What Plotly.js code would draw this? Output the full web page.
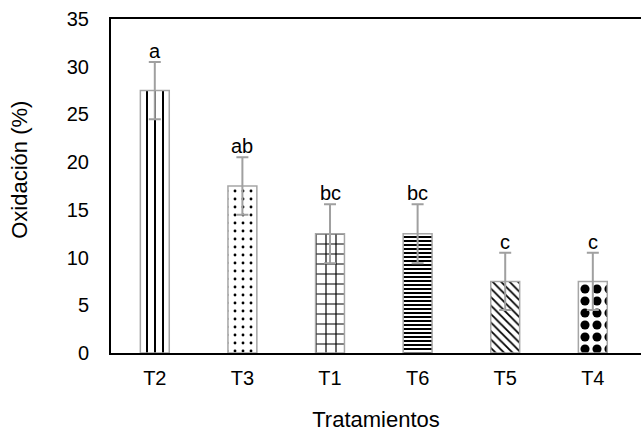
<!DOCTYPE html>
<html>
<head>
<meta charset="utf-8">
<script src="https://cdn.plot.ly/plotly-3.0.1.min.js"></script>
<style>html,body{margin:0;padding:0;background:#fff;}#chart{width:641px;height:434px;}</style>
</head>
<body>
<div id="chart"></div>
<script>
const categories = ["T2", "T3", "T1", "T6", "T5", "T4"];
const values = [27.5, 17.5, 12.5, 12.5, 7.5, 7.5];
const errors = [3.0, 3.0, 3.1, 3.1, 3.0, 3.0];
const letters = ["a", "ab", "bc", "bc", "c", "c"];
const yTicks = [0, 5, 10, 15, 20, 25, 30, 35];
const xTitle = "Tratamientos";
const yTitle = "Oxidación (%)";

const patternShapes = ["|", ".", "+", "-", "\\", "."];
const patternSizes = [8, 8, 10, 4, 6, 12];
const patternSolidity = [0.25, 0.1, 0.22, 0.5, 0.3, 0.45];

const FONT = "Liberation Sans, Arial, sans-serif";

const trace = {
  type: "bar",
  x: categories,
  y: values,
  width: 0.33,
  marker: {
    color: "white",
    line: {color: "#a6a6a6", width: 1.5},
    pattern: {
      shape: patternShapes,
      size: patternSizes,
      solidity: patternSolidity,
      fgcolor: "black",
      bgcolor: "white",
      fillmode: "replace"
    }
  },
  error_y: {type: "data", array: errors, visible: true, color: "#a0a0a0", thickness: 2, width: 6},
  hoverinfo: "skip"
};

const annotations = categories.map((c, i) => ({
  x: c, y: values[i] + errors[i], text: letters[i], showarrow: false,
  yanchor: "bottom", yshift: -2, xanchor: "center",
  font: {family: FONT, size: 20, color: "black"}
}));

annotations.push({
  xref: "paper", yref: "paper", x: -0.172, y: 0.548,
  xanchor: "center", yanchor: "middle", textangle: -90,
  text: yTitle, showarrow: false,
  font: {family: FONT, size: 22, color: "black"}
});

const layout = {
  width: 641, height: 434,
  margin: {l: 111, r: 0, t: 19, b: 81},
  paper_bgcolor: "white", plot_bgcolor: "white",
  font: {family: FONT, size: 20, color: "black"},
  showlegend: false,
  xaxis: {
    type: "category",
    range: [-0.5, 5.55],
    showline: true, linecolor: "black", linewidth: 2, mirror: true,
    showgrid: false, zeroline: false,
    ticks: "outside", ticklen: 6, tickcolor: "rgba(0,0,0,0)",
    tickfont: {size: 20},
    title: {text: xTitle, font: {size: 22}, standoff: 24}
  },
  yaxis: {
    range: [0, 35],
    tickvals: yTicks,
    showline: true, linecolor: "black", linewidth: 2,
    showgrid: false, zeroline: false,
    ticks: "outside", ticklen: 16, tickcolor: "rgba(0,0,0,0)",
    tickfont: {size: 20}
  },
  annotations: annotations,
  bargap: 0.67
};

Plotly.newPlot("chart", [trace], layout, {displayModeBar: false, staticPlot: true});
</script>
</body>
</html>
